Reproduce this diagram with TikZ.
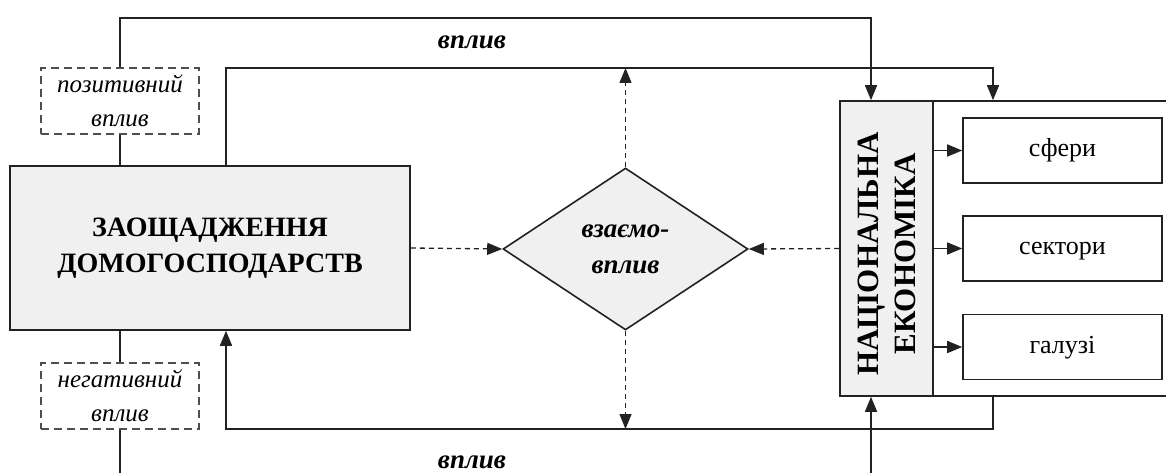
\documentclass[tikz,border=0pt]{standalone}
\usepackage{fontspec}
\setmainfont{Liberation Serif}
\usetikzlibrary{shapes.geometric,arrows.meta}
\definecolor{ink}{HTML}{222222}
\definecolor{shade}{HTML}{F0F0F0}
\begin{document}
\begin{tikzpicture}[x=1pt,y=-1pt,
  line width=1.6pt,
  link/.style={draw=ink,line width=1.6pt},
  tip/.style={-{Triangle[length=15pt,width=12pt]}},
  dlink/.style={draw=ink,line width=1.3pt,dash pattern=on 5pt off 4pt},
  graybox/.style={draw=ink,fill=shade,inner sep=0pt,align=center},
  whitebox/.style={draw=ink,fill=white,inner sep=0pt,minimum width=199pt,minimum height=65pt,
    text height=12pt,text depth=0pt,font=\fontsize{26}{30}\selectfont},
  dashbox/.style={draw=ink!80,line width=1.5pt,dash pattern=on 8pt off 5pt,inner sep=0pt,
    minimum width=158pt,minimum height=66pt,align=center,
    font=\itshape\fontsize{25}{34}\selectfont},
  lbl/.style={font=\bfseries\itshape\fontsize{27}{30}\selectfont,inner sep=0pt}]
\useasboundingbox (0,0) rectangle (1166,473);
\clip (0,0) rectangle (1166,473);

% main blocks
\node[graybox,minimum width=400pt,minimum height=164pt,
  font=\bfseries\fontsize{28}{36}\selectfont] (save) at (210,248)
  {ЗАОЩАДЖЕННЯ\\ДОМОГОСПОДАРСТВ};
\node[dashbox] (pos) at (120,101) {позитивний\\вплив};
\node[dashbox] (neg) at (120,396) {негативний\\вплив};
\node[diamond,aspect=1.5,draw=ink,fill=shade,inner sep=0pt,
  minimum width=245pt,minimum height=162pt,align=center,
  font=\bfseries\itshape\fontsize{27}{36}\selectfont] (dia) at (625.5,249) {взаємо-\\вплив};

% national economy frame
\node[draw=ink,fill=white,inner sep=0pt,minimum width=332pt,minimum height=295pt] (outer) at (1006,248.5) {};
\node[graybox,minimum width=93pt,minimum height=295pt] (ne) at (886.5,248.5) {};
\node[rotate=90,align=center,inner sep=0pt,
  font=\bfseries\fontsize{31}{37}\selectfont] (netext) at (887,254) {НАЦІОНАЛЬНА\\ЕКОНОМІКА};
\node[whitebox] (sf) at (1062.5,150.5) {сфери};
\node[whitebox] (sk) at (1062.5,248.5) {сектори};
\node[whitebox] (gl) at (1062.5,347) {галузі};

% bus columns and rows
\coordinate (cR) at (226,0);
\coordinate (cN) at (871,0);
\coordinate (cO) at (993,0);
\coordinate (r1) at (0,18);
\coordinate (r2) at (0,68);
\coordinate (r3) at (0,429);
\coordinate (r4) at (0,495);

% influence loops
\draw[link,tip] (pos.north) |- (cN |- r1) -- (cN |- ne.north);
\draw[link] (pos.south) -- (pos.south |- save.north);
\draw[link,tip] (cR |- save.north) |- (cO |- r2) -- (cO |- outer.north);
\draw[link,tip] (cO |- outer.south) |- (cR |- r3) -- (cR |- save.south);
\draw[link] (save.south -| neg.north) -- (neg.north);
\draw[link,tip] (neg.south) |- (cN |- r4) -- (cN |- ne.south);

% mutual influence
\draw[dlink,tip] (save.east) -- (dia.west);
\draw[dlink,tip] (ne.west) -- (dia.east);
\draw[dlink,tip] (dia.north) -- (dia.north |- r2);
\draw[dlink,tip] (dia.south) -- (dia.south |- r3);

% structure of the economy
\draw[link,tip] (ne.east |- sf.west) -- (sf.west);
\draw[link,tip] (ne.east |- sk.west) -- (sk.west);
\draw[link,tip] (ne.east |- gl.west) -- (gl.west);

% loop labels
\node[lbl] (v1) at (472,42) {вплив};
\node[lbl] (v2) at (472,462) {вплив};
\end{tikzpicture}
\end{document}
